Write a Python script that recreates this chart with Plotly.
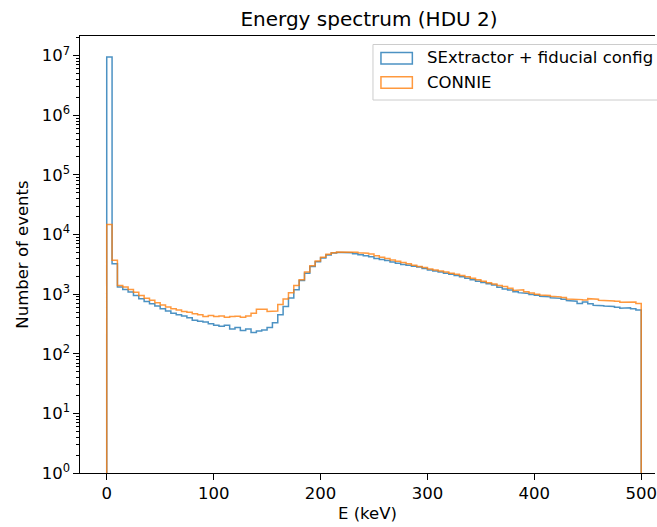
import numpy as np
import plotly.graph_objects as go

# ---------------- data ----------------
bin_edges = list(range(0, 505, 5))  # 100 bins of 5 keV, 0..500 keV

sextractor_counts = [
    9.5e6, 3250, 1320, 1200, 1085, 950, 835, 753, 688, 630,
    567, 520, 480, 450, 430, 400, 365, 350, 340, 320,
    300, 290, 300, 260, 275, 245, 260, 228, 240, 250,
    275, 330, 450, 620, 860, 1190, 1700, 2250, 2900, 3500,
    4050, 4550, 4900, 5000, 5000, 4950, 4750, 4600, 4400, 4250,
    3950, 3800, 3650, 3450, 3300, 3150, 3050, 2950, 2850, 2700,
    2550, 2450, 2350, 2250, 2150, 2050, 1950, 1850, 1750, 1650,
    1570, 1500, 1420, 1300, 1220, 1170, 1100, 1060, 1030, 990,
    960, 920, 900, 870, 850, 820, 780, 760, 700, 740,
    690, 650, 640, 630, 620, 600, 580, 590, 570, 540,
]

connie_counts = [
    14800, 3700, 1400, 1320, 1200, 1080, 950, 850, 790, 720,
    660, 610, 570, 540, 510, 495, 470, 450, 420, 440,
    420, 430, 410, 420, 425, 410, 430, 480, 560, 560,
    510, 520, 670, 830, 1060, 1400, 1750, 2350, 3000, 3600,
    4150, 4650, 4950, 5100, 5150, 5150, 5050, 4950, 4850, 4700,
    4400, 4150, 3950, 3750, 3550, 3400, 3250, 3050, 2900, 2800,
    2650, 2550, 2450, 2350, 2250, 2150, 2050, 1950, 1850, 1750,
    1650, 1550, 1480, 1400, 1350, 1250, 1150, 1180, 1100, 1050,
    1000, 970, 950, 920, 900, 880, 830, 820, 810, 800,
    840, 820, 790, 780, 770, 760, 730, 720, 740, 700,
]

series_names = ["SExtractor + fiducial config", "CONNIE"]
x_ticks = [0, 100, 200, 300, 400, 500]
y_ticks = [1, 10, 100, 1e3, 1e4, 1e5, 1e6, 1e7]
y_ticktext = ["10<sup>%d</sup>" % k for k in range(8)]

# ---------------- styling ----------------
W, H = 657, 527
ML, MR, MT, MB = 80, 0, 36, 54
PW, PH = W - ML - MR, H - MT - MB
FONT = "DejaVu Sans"
FS = 16.5
BLUE = "rgba(31,119,180,0.8)"
ORANGE = "rgba(255,127,14,0.8)"
colors = [BLUE, ORANGE]


def step_outline(edges, counts, floor=1e-3):
    xs = [edges[0]]
    ys = [floor]
    for i, c in enumerate(counts):
        xs += [edges[i], edges[i + 1]]
        ys += [c, c]
    xs.append(edges[-1])
    ys.append(floor)
    return xs, ys


fig = go.Figure()
for name, counts, col in zip(series_names, [sextractor_counts, connie_counts], colors):
    xs, ys = step_outline(bin_edges, counts)
    fig.add_trace(go.Scatter(x=xs, y=ys, mode="lines", name=name,
                             line=dict(color=col, width=1.5), showlegend=False,
                             hoverinfo="skip"))


def px_x(p):
    return (p - ML) / PW


def px_y(p):
    return (H - MB - p) / PH


# manual matplotlib-style legend
shapes = [
    dict(type="rect", xref="paper", yref="paper",
         x0=px_x(374), x1=px_x(675), y0=px_y(100), y1=px_y(44.5),
         fillcolor="rgba(255,255,255,0.8)", line=dict(color="#cccccc", width=1), layer="above"),
]
annotations = []
rows = [(52.5, 64.0, 58.0), (76.7, 88.3, 82.5)]
for (t, b, c), name, col in zip(rows, series_names, colors):
    shapes.append(dict(type="rect", xref="paper", yref="paper",
                       x0=px_x(382), x1=px_x(413.5), y0=px_y(b), y1=px_y(t),
                       fillcolor="rgba(0,0,0,0)", line=dict(color=col, width=1.5), layer="above"))
    annotations.append(dict(text=name, xref="paper", yref="paper", x=px_x(426), y=px_y(c),
                            xanchor="left", yanchor="middle", showarrow=False,
                            font=dict(family=FONT, size=FS, color="#000000")))

x_left, x_right_full = -25, 525
px_per_unit = (670 - 80) / (x_right_full - x_left)
x_right = x_left + PW / px_per_unit

minor_vals = [m * 10 ** k for k in range(0, 8) for m in range(2, 10)]

fig.update_layout(
    width=W, height=H,
    margin=dict(l=ML, r=MR, t=MT, b=MB, pad=0),
    paper_bgcolor="white", plot_bgcolor="white",
    font=dict(family=FONT, size=FS, color="#000000"),
    title=dict(text="Energy spectrum (HDU 2)", x=369 / W, xref="container",
               xanchor="center", y=1 - 19 / H, yref="container", yanchor="middle",
               font=dict(family=FONT, size=20, color="#000000")),
    xaxis=dict(range=[x_left, x_right], tickmode="array", tickvals=x_ticks,
               ticks="outside", ticklen=5.5, tickwidth=1.1, tickcolor="#000000",
               ticklabeloverflow="allow",
               showline=True, linecolor="#000000", linewidth=1.1, mirror=True,
               showgrid=False, zeroline=False,
               tickfont=dict(family=FONT, size=FS, color="#000000"),
               title=dict(text="E (keV)", standoff=5,
                          font=dict(family=FONT, size=FS, color="#000000"))),
    yaxis=dict(type="log", range=[0, 7.33], tickmode="array", tickvals=y_ticks,
               ticktext=y_ticktext,
               ticks="outside", ticklen=5.5, tickwidth=1.1, tickcolor="#000000",
               minor=dict(tickmode="array", tickvals=minor_vals, ticks="outside",
                          ticklen=3.2, tickwidth=0.8, tickcolor="#000000", showgrid=False),
               showline=True, linecolor="#000000", linewidth=1.1, mirror=False,
               showgrid=False, zeroline=False,
               tickfont=dict(family=FONT, size=FS, color="#000000"),
               title=dict(text="Number of events", standoff=9,
                          font=dict(family=FONT, size=FS, color="#000000"))),
    shapes=shapes,
    annotations=annotations,
    showlegend=False,
)

fig.write_html("out.html")
